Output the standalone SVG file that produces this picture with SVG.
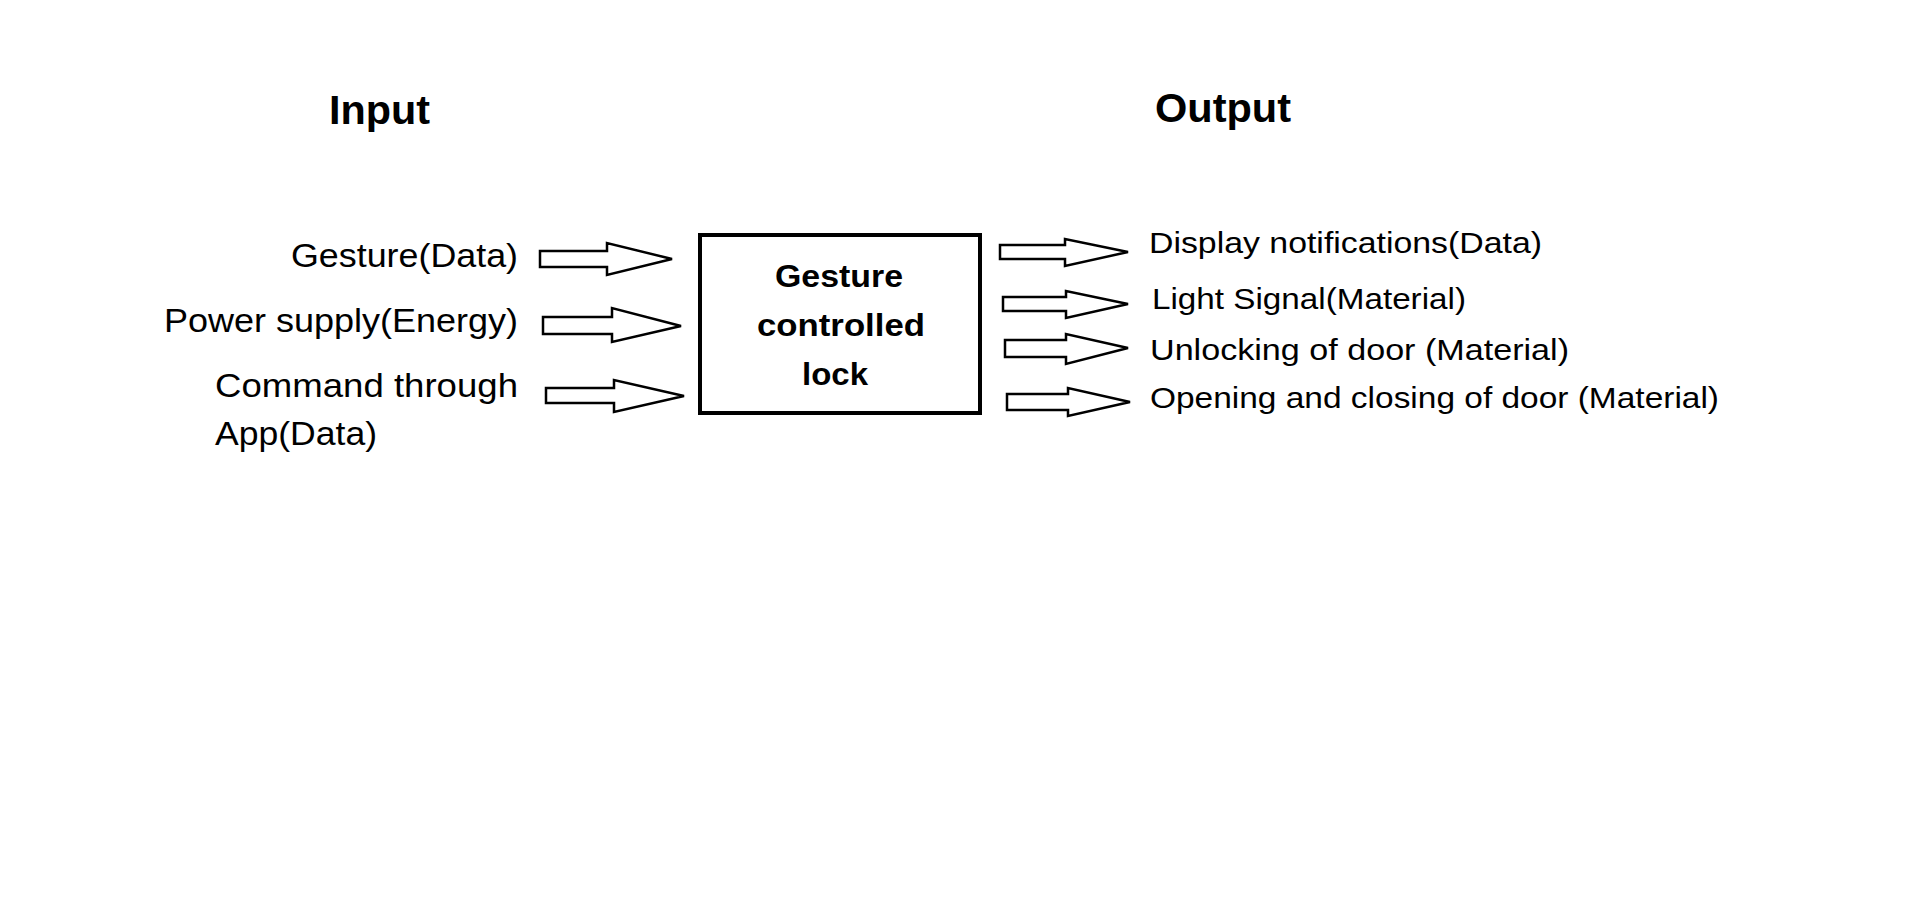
<svg xmlns="http://www.w3.org/2000/svg" width="1914" height="903" viewBox="0 0 1914 903">
<style>
.h{font-family:"Liberation Sans",Arial,sans-serif;font-weight:bold;font-size:40px;fill:#000}
.b{font-family:"Liberation Sans",Arial,sans-serif;font-weight:bold;font-size:32px;fill:#000}
.l{font-family:"Liberation Sans",Arial,sans-serif;font-size:33px;fill:#000}
.r{font-family:"Liberation Sans",Arial,sans-serif;font-size:29px;fill:#000}
.a{fill:#fff;stroke:#000;stroke-width:2.5;stroke-linejoin:miter}
</style>
<rect width="1914" height="903" fill="#fff"/>
<g id="titles">
<text class="h" x="329" y="124" textLength="101" lengthAdjust="spacingAndGlyphs">Input</text>
<text class="h" x="1155" y="122" textLength="136" lengthAdjust="spacingAndGlyphs">Output</text>
</g>
<g id="inputs">
<text class="l" x="291" y="267" textLength="227" lengthAdjust="spacingAndGlyphs">Gesture(Data)</text>
<text class="l" x="164" y="332" textLength="354" lengthAdjust="spacingAndGlyphs">Power supply(Energy)</text>
<text class="l" x="215" y="397" textLength="303" lengthAdjust="spacingAndGlyphs">Command through</text>
<text class="l" x="215" y="445" textLength="162" lengthAdjust="spacingAndGlyphs">App(Data)</text>
</g>
<g id="lock">
<rect x="700" y="235" width="280" height="178" fill="#fff" stroke="#000" stroke-width="4"/>
<text class="b" x="775" y="287" textLength="128" lengthAdjust="spacingAndGlyphs">Gesture</text>
<text class="b" x="757" y="336" textLength="168" lengthAdjust="spacingAndGlyphs">controlled</text>
<text class="b" x="802" y="385" textLength="66" lengthAdjust="spacingAndGlyphs">lock</text>
</g>
<g id="outputs">
<text class="r" x="1149" y="253" textLength="393" lengthAdjust="spacingAndGlyphs">Display notifications(Data)</text>
<text class="r" x="1152" y="309" textLength="314" lengthAdjust="spacingAndGlyphs">Light Signal(Material)</text>
<text class="r" x="1150" y="360" textLength="419" lengthAdjust="spacingAndGlyphs">Unlocking of door (Material)</text>
<text class="r" x="1150" y="408" textLength="569" lengthAdjust="spacingAndGlyphs">Opening and closing of door (Material)</text>
</g>
<g id="connectors">
<polygon class="a" points="540,251 607,251 607,243 672,259 607,275 607,267 540,267"/>
<polygon class="a" points="543,317 612,317 612,308 681,326 612,342 612,334 543,334"/>
<polygon class="a" points="546,388 614,388 614,380 684,396 614,412 614,403 546,403"/>
<polygon class="a" points="1000,245 1065,245 1065,239 1128,252 1065,266 1065,259 1000,259"/>
<polygon class="a" points="1003,297 1066,297 1066,291 1128,304 1066,318 1066,311 1003,311"/>
<polygon class="a" points="1005,340 1066,340 1066,334 1128,348 1066,364 1066,357 1005,357"/>
<polygon class="a" points="1007,394 1068,394 1068,388 1130,402 1068,416 1068,410 1007,410"/>
</g>
</svg>
